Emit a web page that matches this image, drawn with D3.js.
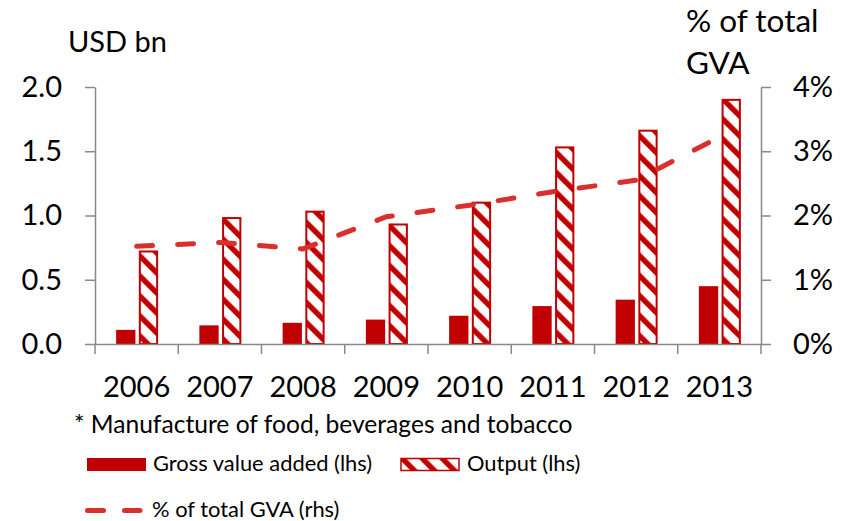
<!DOCTYPE html>
<html>
<head>
<meta charset="utf-8">
<script src="https://cdn.jsdelivr.net/npm/d3@7/dist/d3.min.js"></script>
<style>
  html, body { margin: 0; padding: 0; background: #fff; }
  svg { display: block; }
  text { font-family: Lato, "Open Sans", sans-serif; fill: #000; }
</style>
</head>
<body>
<svg id="chart" width="850" height="521"></svg>
<script>
// ---- Data ----
const years = ["2006", "2007", "2008", "2009", "2010", "2011", "2012", "2013"];
const grossValueAdded = [0.11, 0.145, 0.165, 0.19, 0.22, 0.295, 0.345, 0.45];   // USD bn (lhs)
const output = [0.72, 0.98, 1.03, 0.93, 1.10, 1.53, 1.66, 1.90];               // USD bn (lhs)
const shareOfGVA = [1.52, 1.58, 1.48, 1.98, 2.16, 2.37, 2.55, 3.22];            // % of total GVA (rhs)
const leftTicks = [0, 0.5, 1.0, 1.5, 2.0];
const rightTicks = [0, 1, 2, 3, 4];

const barColor = "#C00000";
const lineColor = "#D9302E";
const axisColor = "#898989";

const svg = d3.select("#chart");
svg.append("rect").attr("width", 850).attr("height", 521).attr("fill", "#fff");

// hatch pattern
const defs = svg.append("defs");
const pat = defs.append("pattern")
  .attr("id", "hatch")
  .attr("patternUnits", "userSpaceOnUse")
  .attr("width", 14.14).attr("height", 14.14)
  .attr("patternTransform", "rotate(-45)");
pat.append("rect").attr("width", 14.14).attr("height", 14.14).attr("fill", "#fff");
pat.append("rect").attr("x", 0).attr("width", 5.4).attr("height", 14.14).attr("fill", barColor);

const plot = { left: 95, right: 761, top: 87, bottom: 344 };

const x = d3.scaleBand().domain(years).range([plot.left, plot.right]).padding(0);
const sub = d3.scaleBand().domain(["gva", "out"]).range([-20.5, 21.5]).paddingInner(0.15);
const yL = d3.scaleLinear().domain([0, 2]).range([plot.bottom, plot.top]);
const yR = d3.scaleLinear().domain([0, 4]).range([plot.bottom, plot.top]);

// ---- Bars ----
const g = svg.append("g");
g.selectAll("rect.gva").data(years).join("rect")
  .attr("class", "gva")
  .attr("x", (d) => x(d) + x.bandwidth() / 2 + sub("gva"))
  .attr("width", sub.bandwidth())
  .attr("y", (d, i) => yL(grossValueAdded[i]))
  .attr("height", (d, i) => yL(0) - yL(grossValueAdded[i]))
  .attr("fill", barColor);

g.selectAll("rect.out").data(years).join("rect")
  .attr("class", "out")
  .attr("x", (d) => x(d) + x.bandwidth() / 2 + sub("out") + 1)
  .attr("width", sub.bandwidth() - 2)
  .attr("y", (d, i) => yL(output[i]))
  .attr("height", (d, i) => yL(0) - yL(output[i]))
  .attr("fill", "url(#hatch)")
  .attr("stroke", barColor)
  .attr("stroke-width", 2);

// ---- Axes ----
function styleAxis(sel) {
  sel.select(".domain").attr("stroke", axisColor).attr("stroke-width", 1.5);
  sel.selectAll(".tick line").attr("stroke", axisColor).attr("stroke-width", 1.5);
  sel.selectAll("text").attr("font-family", "Lato").attr("fill", "#000");
}

const axL = svg.append("g").attr("transform", `translate(${plot.left},0)`)
  .call(d3.axisLeft(yL).tickValues(leftTicks).tickFormat(d3.format(".1f")).tickSizeInner(10).tickSizeOuter(0).tickPadding(23));
styleAxis(axL);
axL.selectAll("text").attr("font-size", 29);

const axR = svg.append("g").attr("transform", `translate(${plot.right},0)`)
  .call(d3.axisRight(yR).tickValues(rightTicks).tickFormat((d) => d + "%").tickSizeInner(10).tickSizeOuter(0).tickPadding(22));
styleAxis(axR);
axR.selectAll("text").attr("font-size", 29);

const axB = svg.append("g").attr("transform", `translate(0,${plot.bottom})`)
  .call(d3.axisBottom(x).tickSizeInner(0).tickSizeOuter(0).tickPadding(0));
styleAxis(axB);
axB.selectAll(".tick line").remove();
axB.selectAll("text").attr("font-size", 29).attr("dy", 0).attr("y", 53);

// boundary ticks on x axis
const bounds = years.map((d) => x(d)).concat([plot.right]);
axB.selectAll("line.bound").data(bounds).join("line")
  .attr("class", "bound")
  .attr("x1", (d) => d).attr("x2", (d) => d)
  .attr("y1", 0).attr("y2", 10)
  .attr("stroke", axisColor).attr("stroke-width", 1.5);

// ---- Line ----
const line = d3.line()
  .x((d, i) => x(years[i]) + x.bandwidth() / 2)
  .y((d) => yR(d));
svg.append("path").datum(shareOfGVA)
  .attr("d", line)
  .attr("fill", "none")
  .attr("stroke", lineColor)
  .attr("stroke-width", 5)
  .attr("stroke-linecap", "round")
  .attr("stroke-dasharray", "16,25");

// ---- Titles ----
svg.append("text").attr("x", 68).attr("y", 52).attr("font-size", 29).text("USD bn");
svg.append("text").attr("x", 686).attr("y", 32).attr("font-size", 31.5).text("% of total");
svg.append("text").attr("x", 686).attr("y", 74).attr("font-size", 31.5).text("GVA");

// ---- Footnote & legend ----
svg.append("text").attr("x", 74).attr("y", 433).attr("font-size", 24.6)
  .text("* Manufacture of food, beverages and tobacco");

svg.append("rect").attr("x", 87).attr("y", 458).attr("width", 59).attr("height", 13).attr("fill", barColor);
svg.append("text").attr("x", 153).attr("y", 471).attr("font-size", 21.9).text("Gross value added (lhs)");

svg.append("rect").attr("x", 401).attr("y", 458.5).attr("width", 58).attr("height", 12)
  .attr("fill", "url(#hatch)").attr("stroke", barColor).attr("stroke-width", 1.5);
svg.append("text").attr("x", 467).attr("y", 471).attr("font-size", 21.9).text("Output (lhs)");

svg.append("line").attr("x1", 87.5).attr("x2", 140).attr("y1", 510.5).attr("y2", 510.5)
  .attr("stroke", lineColor).attr("stroke-width", 5)
  .attr("stroke-linecap", "round").attr("stroke-dasharray", "16,21");
svg.append("text").attr("x", 152).attr("y", 517).attr("font-size", 21.9).text("% of total GVA (rhs)");
</script>
</body>
</html>
